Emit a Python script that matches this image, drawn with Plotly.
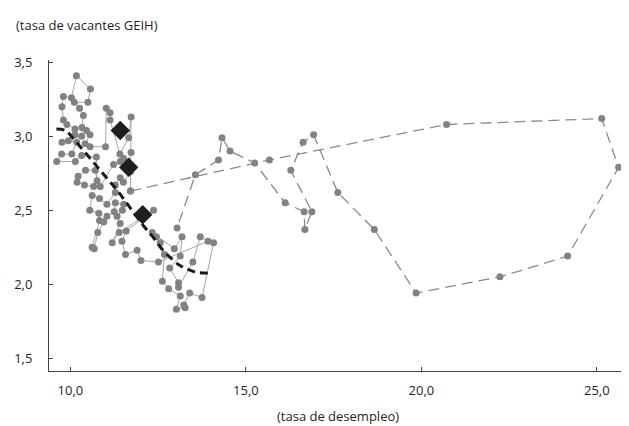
import plotly.graph_objects as go

# Historical monthly path (solid) - unemployment rate (x) vs GEIH vacancy rate (y)
hist_unemp = [14.08, 13.75, 13.40, 13.23, 13.27, 13.02, 13.13, 12.80, 12.62, 12.68,
              12.56, 12.45, 12.33, 12.96, 13.18, 13.13, 12.83, 13.08, 13.08, 13.49,
              13.70, 13.92, 12.51, 12.01, 11.90, 11.57, 11.47, 11.59, 12.37, 11.39,
              11.19, 11.42, 11.33, 11.48, 11.52, 11.28, 11.25, 11.04, 10.95, 10.78,
              10.68, 10.62, 10.83, 10.81, 10.55, 10.62, 10.83, 11.04, 11.28, 11.28,
              11.42, 11.51, 11.71, 11.52, 11.42, 11.23, 10.85, 10.66, 10.40, 10.19,
              10.22, 10.43, 10.71, 10.76, 10.74, 10.32, 10.14, 9.61, 9.75, 10.04,
              10.18, 9.94, 9.76, 10.13, 10.13, 9.90, 9.80, 9.76, 9.80, 10.03,
              10.17, 10.57, 10.50, 10.11, 10.26, 10.37, 10.33, 10.32, 10.46, 10.56,
              10.42, 10.56, 11.00, 11.02, 11.13, 11.13, 11.41, 11.66, 11.73, 11.73,
              11.71]
hist_vac = [2.28, 1.91, 1.94, 1.86, 1.84, 1.83, 1.92, 1.97, 2.02, 2.20,
            2.28, 2.32, 2.35, 2.24, 2.32, 2.19, 2.11, 2.01, 1.98, 2.15,
            2.32, 2.29, 2.15, 2.16, 2.23, 2.20, 2.29, 2.36, 2.50, 2.35,
            2.28, 2.41, 2.46, 2.50, 2.54, 2.55, 2.49, 2.46, 2.42, 2.35,
            2.24, 2.25, 2.43, 2.48, 2.50, 2.60, 2.58, 2.54, 2.62, 2.67,
            2.72, 2.69, 2.76, 2.85, 2.83, 2.81, 2.66, 2.66, 2.67, 2.69,
            2.73, 2.77, 2.77, 2.70, 2.86, 2.87, 2.83, 2.83, 2.88, 2.88,
            2.96, 2.97, 2.96, 3.01, 3.05, 3.08, 3.11, 3.20, 3.27, 3.26,
            3.41, 3.32, 3.23, 3.23, 3.19, 3.14, 3.06, 3.00, 3.04, 3.01,
            2.95, 2.93, 2.93, 3.19, 3.16, 3.11, 2.88, 2.99, 3.13, 2.89,
            2.63]

# Pandemic path (dashed)
pand_unemp = [11.71, 15.67, 20.72, 25.14, 25.62, 24.17, 22.24, 19.85, 18.66, 17.62,
              16.93, 16.63, 16.28, 16.88, 16.68, 16.66, 16.12, 15.25, 14.55, 14.32,
              14.22, 13.56, 13.04]
pand_vac = [2.63, 2.84, 3.08, 3.12, 2.79, 2.19, 2.05, 1.94, 2.37, 2.62,
            3.01, 2.96, 2.77, 2.49, 2.37, 2.49, 2.55, 2.82, 2.90, 2.99,
            2.84, 2.74, 2.38]

# Fitted Beveridge curve
curve_unemp = [9.60, 9.85, 10.10, 10.35, 10.60, 10.85, 11.10, 11.35, 11.60, 11.85,
               12.10, 12.35, 12.60, 12.85, 13.10, 13.35, 13.60, 13.85, 14.05]
curve_vac = [3.05, 3.04, 2.98, 2.91, 2.84, 2.77, 2.70, 2.63, 2.55, 2.47,
             2.39, 2.32, 2.24, 2.18, 2.13, 2.10, 2.08, 2.075, 2.07]

# Highlighted points (diamonds)
diam_unemp = [11.42, 11.66, 12.06]
diam_vac = [3.04, 2.79, 2.47]

x_ticks = [10, 15, 20, 25]
y_ticks = [1.5, 2.0, 2.5, 3.0, 3.5]

FONT = "Open Sans"
TXT = "#231f20"

fig = go.Figure()
fig.add_trace(go.Scatter(x=hist_unemp, y=hist_vac, mode="lines+markers",
                         line=dict(color="#a6a6a6", width=1),
                         marker=dict(color="#828282", size=7),
                         hoverinfo="skip", showlegend=False))
fig.add_trace(go.Scatter(x=pand_unemp, y=pand_vac, mode="lines+markers",
                         line=dict(color="#8a8a8a", width=1.3, dash="11px,6px"),
                         marker=dict(color="#828282", size=7),
                         hoverinfo="skip", showlegend=False, cliponaxis=False))
fig.add_trace(go.Scatter(x=curve_unemp, y=curve_vac, mode="lines",
                         line=dict(color="#1a1a1a", width=3, dash="8px,5px", shape="spline"),
                         hoverinfo="skip", showlegend=False))
fig.add_trace(go.Scatter(x=diam_unemp, y=diam_vac, mode="markers",
                         marker=dict(symbol="diamond", color="#1e1e1e", size=15),
                         hoverinfo="skip", showlegend=False))

axis_common = dict(showline=True, linecolor="#444444", linewidth=1,
                   ticks="inside", ticklen=4, tickcolor="#444444",
                   showgrid=False, zeroline=False,
                   tickfont=dict(family=FONT, size=13, color=TXT))

fig.update_layout(
    width=621, height=418,
    margin=dict(l=41, r=2, t=52, b=55),
    paper_bgcolor="white", plot_bgcolor="white",
    separators=",.",
    xaxis=dict(range=[9.39, 25.86], tickvals=x_ticks, tickformat=".1f",
               ticklabelstandoff=7, **axis_common),
    yaxis=dict(range=[1.413, 3.516], tickvals=y_ticks, tickformat=".1f",
               ticklabelstandoff=13, **axis_common),
    annotations=[
        dict(text="(tasa de vacantes GEIH)", xref="paper", yref="paper",
             x=-0.061, y=1.112, xanchor="left", yanchor="middle", showarrow=False,
             font=dict(family=FONT, size=13, color=TXT)),
        dict(text="(tasa de desempleo)", xref="paper", yref="paper",
             x=0.5, y=-0.146, xanchor="center", yanchor="middle", showarrow=False,
             font=dict(family=FONT, size=13, color=TXT)),
    ],
)

fig.write_html("out.html")
